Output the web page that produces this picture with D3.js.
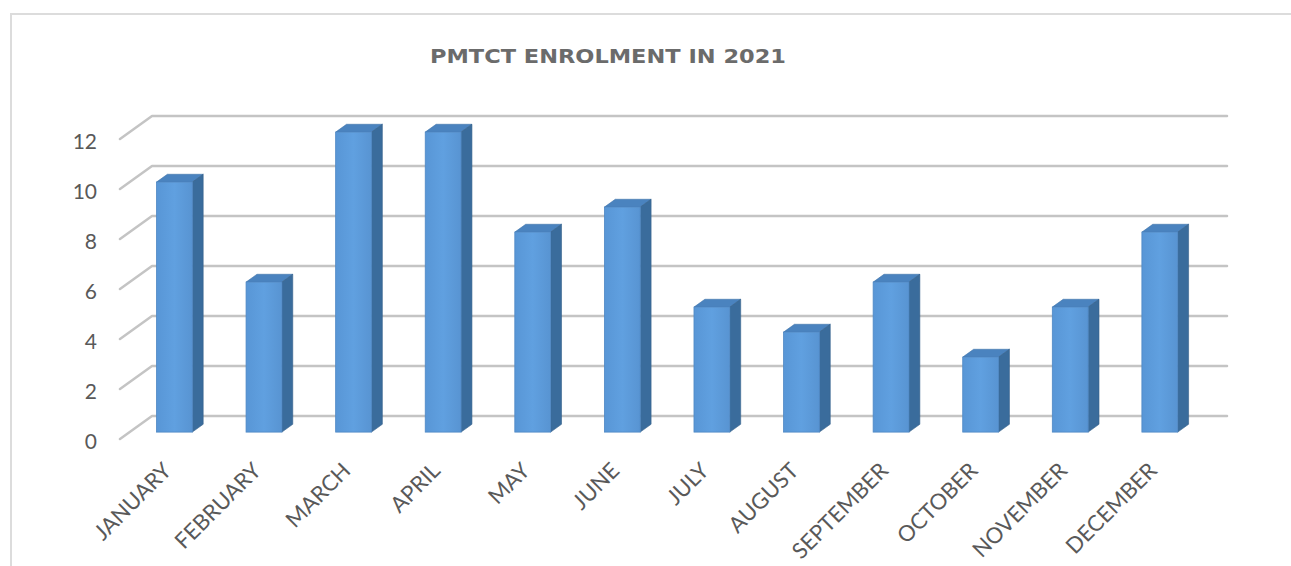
<!DOCTYPE html>
<html>
<head>
<meta charset="utf-8">
<script src="https://cdn.jsdelivr.net/npm/d3@7"></script>
<style>
  html, body { margin: 0; padding: 0; background: #ffffff; }
  svg { display: block; }
</style>
</head>
<body>
<svg id="chart" width="1291" height="566"></svg>
<script>
const title = "PMTCT ENROLMENT IN 2021";
const months = ["JANUARY","FEBRUARY","MARCH","APRIL","MAY","JUNE","JULY","AUGUST","SEPTEMBER","OCTOBER","NOVEMBER","DECEMBER"];
const enrolment = [10, 6, 12, 12, 8, 9, 5, 4, 6, 3, 5, 8];
const yTicks = [0, 2, 4, 6, 8, 10, 12];

const svg = d3.select("#chart");
const W = 1291, H = 566;

// chart border
svg.append("rect")
  .attr("x", 11).attr("y", 14)
  .attr("width", W + 20).attr("height", H + 20)
  .attr("fill", "#ffffff")
  .attr("stroke", "#dcdcdc").attr("stroke-width", 2);

// title (horizontally widened to mimic the geometric display face)
svg.append("text")
  .attr("transform", "translate(608,63) scale(1.18,1)")
  .attr("x", 0).attr("y", 0)
  .attr("text-anchor", "middle")
  .attr("font-family", "'DejaVu Sans', sans-serif")
  .attr("font-weight", "bold")
  .attr("font-size", 19.5)
  .attr("fill", "#6b6b6b")
  .attr("textLength", 356 / 1.18)
  .attr("lengthAdjust", "spacingAndGlyphs")
  .text(title);

// 3D geometry
const depth = { dx: 32, dy: -23 };
const f0 = 0.3, f1 = 0.64;

const x = d3.scaleBand()
  .domain(months)
  .range([120, 1195])
  .paddingInner(0.6)
  .paddingOuter(0.3);

const y = d3.scaleLinear()
  .domain([0, 12])
  .range([439, 139]);

// gridlines (back wall + side diagonal)
const grid = svg.append("g");
yTicks.forEach(t => {
  const yf = y(t);
  const yb = yf + depth.dy;
  grid.append("path")
    .attr("d", `M${120},${yf} L${120 + depth.dx},${yb} L${1195 + depth.dx},${yb}`)
    .attr("fill", "none")
    .attr("stroke", "#c4c4c4")
    .attr("stroke-width", 2.5)
    .attr("stroke-linecap", "round")
    .attr("stroke-linejoin", "round");
});

// y-axis labels
svg.append("g")
  .selectAll("text")
  .data(yTicks)
  .join("text")
  .attr("x", 97)
  .attr("y", d => y(d) + 1)
  .attr("dominant-baseline", "central")
  .attr("text-anchor", "end")
  .attr("font-family", "Lato, sans-serif")
  .attr("font-size", 21)
  .attr("fill", "#595959")
  .text(d => d);

// gradient for front faces
const defs = svg.append("defs");
const grad = defs.append("linearGradient").attr("id", "frontGrad")
  .attr("x1", "0%").attr("x2", "100%").attr("y1", "0%").attr("y2", "0%");
grad.append("stop").attr("offset", "0%").attr("stop-color", "#5896d6");
grad.append("stop").attr("offset", "50%").attr("stop-color", "#60a0e0");
grad.append("stop").attr("offset", "100%").attr("stop-color", "#5894d2");

// bars
const ox0 = depth.dx * f0, oy0 = depth.dy * f0;
const bdx = depth.dx * (f1 - f0), bdy = depth.dy * (f1 - f0);
const bw = x.bandwidth();

const bars = svg.append("g")
  .selectAll("g")
  .data(months.map((m, i) => ({ m, v: enrolment[i] })))
  .join("g");

bars.each(function(d) {
  const g = d3.select(this);
  const xl = x(d.m) + ox0, xr = xl + bw;
  const yt = y(d.v) + oy0, yb = y(0) + oy0;
  g.append("path")
    .attr("d", `M${xl},${yt} L${xr},${yt} L${xr + bdx},${yt + bdy} L${xl + bdx},${yt + bdy} Z`)
    .attr("fill", "#4a83bf").attr("stroke", "#3f73aa").attr("stroke-width", 0.6);
  g.append("path")
    .attr("d", `M${xr},${yt} L${xr + bdx},${yt + bdy} L${xr + bdx},${yb + bdy} L${xr},${yb} Z`)
    .attr("fill", "#3a6c9c").attr("stroke", "#345f8a").attr("stroke-width", 0.6);
  g.append("rect")
    .attr("x", xl).attr("y", yt)
    .attr("width", bw).attr("height", yb - yt)
    .attr("fill", "url(#frontGrad)")
    .attr("stroke", "#4f88c4").attr("stroke-width", 0.8);
});

// x-axis labels
svg.append("g")
  .selectAll("text")
  .data(months)
  .join("text")
  .attr("transform", d => `translate(${x(d) + bw / 2 + 8},${472}) rotate(-45)`)
  .attr("text-anchor", "end")
  .attr("font-family", "Lato, sans-serif")
  .attr("font-size", 22)
  .attr("fill", "#595959")
  .text(d => d);
</script>
</body>
</html>
